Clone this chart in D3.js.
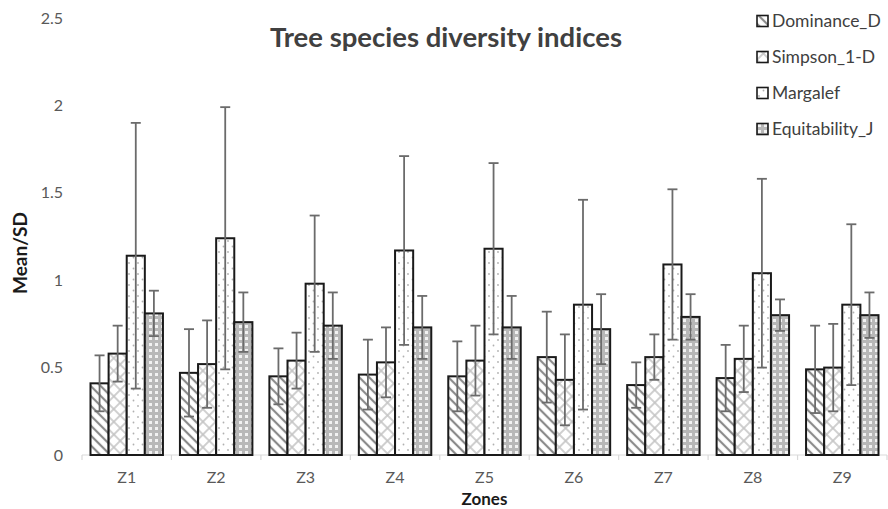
<!DOCTYPE html>
<html>
<head>
<meta charset="utf-8">
<script src="https://cdn.jsdelivr.net/npm/d3@7"></script>
<style>
  body { margin: 0; background: #fff; }
  text { font-family: Lato, "Open Sans", sans-serif; }
</style>
</head>
<body>
<div id="chart"></div>
<script>
var zones = ["Z1", "Z2", "Z3", "Z4", "Z5", "Z6", "Z7", "Z8", "Z9"];
var series = ["Dominance_D", "Simpson_1-D", "Margalef", "Equitability_J"];
var dominance = [0.41, 0.47, 0.45, 0.46, 0.45, 0.56, 0.40, 0.44, 0.49];
var dominance_sd = [0.16, 0.25, 0.16, 0.20, 0.20, 0.26, 0.13, 0.19, 0.25];
var simpson = [0.58, 0.52, 0.54, 0.53, 0.54, 0.43, 0.56, 0.55, 0.50];
var simpson_sd = [0.16, 0.25, 0.16, 0.20, 0.20, 0.26, 0.13, 0.19, 0.25];
var margalef = [1.14, 1.24, 0.98, 1.17, 1.18, 0.86, 1.09, 1.04, 0.86];
var margalef_sd = [0.76, 0.75, 0.39, 0.54, 0.49, 0.60, 0.43, 0.54, 0.46];
var equit = [0.81, 0.76, 0.74, 0.73, 0.73, 0.72, 0.79, 0.80, 0.80];
var equit_sd = [0.13, 0.17, 0.19, 0.18, 0.18, 0.20, 0.13, 0.09, 0.13];
var y_ticks = [0, 0.5, 1, 1.5, 2, 2.5];

var means = [dominance, simpson, margalef, equit];
var sds = [dominance_sd, simpson_sd, margalef_sd, equit_sd];
var patterns = ["pat_dom", "pat_simp", "pat_marg", "pat_eq"];

// flat table, one row per bar
var rows = [];
zones.forEach(function(z, i) {
    series.forEach(function(s, j) {
        rows.push({zone: z, key: s, mean: means[j][i], sd: sds[j][i], pat: patterns[j]});
    });
});

var w = 888, h = 509;
var marges = {left: 82, right: 1, top: 18, bottom: 54};
var graf_w = w - marges.left - marges.right;
var graf_h = h - marges.top - marges.bottom;

var svg = d3.select("#chart")
  .append("svg")
    .attr("width", w)
    .attr("height", h);

// <-- PATTERNS -------------
var defs = svg.append("defs");

var p1 = defs.append("pattern")
    .attr("id", "pat_dom")
    .attr("patternUnits", "userSpaceOnUse")
    .attr("width", 7).attr("height", 7)
    .attr("patternTransform", "rotate(45)");
p1.append("rect").attr("width", 7).attr("height", 7).attr("fill", "#fff");
p1.append("line").attr("x1", 0).attr("x2", 7).attr("y1", 2).attr("y2", 2)
    .attr("stroke", "#8a8a8a").attr("stroke-width", 2.2);

var p2 = defs.append("pattern")
    .attr("id", "pat_simp")
    .attr("patternUnits", "userSpaceOnUse")
    .attr("width", 9).attr("height", 9)
    .attr("patternTransform", "rotate(45)");
p2.append("rect").attr("width", 9).attr("height", 9).attr("fill", "#fff");
p2.append("line").attr("x1", 0).attr("x2", 9).attr("y1", 2).attr("y2", 2)
    .attr("stroke", "#c4c4c4").attr("stroke-width", 1.6);
p2.append("line").attr("x1", 2).attr("x2", 2).attr("y1", 0).attr("y2", 9)
    .attr("stroke", "#c4c4c4").attr("stroke-width", 1.6);

var p3 = defs.append("pattern")
    .attr("id", "pat_marg")
    .attr("patternUnits", "userSpaceOnUse")
    .attr("width", 9).attr("height", 11);
p3.append("rect").attr("width", 9).attr("height", 11).attr("fill", "#fff");
p3.append("circle").attr("cx", 2).attr("cy", 3).attr("r", 0.9).attr("fill", "#b0b0b0");
p3.append("circle").attr("cx", 6.5).attr("cy", 8.5).attr("r", 0.9).attr("fill", "#b0b0b0");

var p4 = defs.append("pattern")
    .attr("id", "pat_eq")
    .attr("patternUnits", "userSpaceOnUse")
    .attr("width", 6).attr("height", 6);
p4.append("rect").attr("width", 6).attr("height", 6).attr("fill", "#b8b8b8");
p4.append("rect").attr("x", 1).attr("y", 1).attr("width", 3).attr("height", 3).attr("fill", "#f2f2f2");
// -- PATTERNS ------------->

var g = svg.append("g")
    .attr("transform", "translate(" + marges.left + "," + marges.top + ")");

// <-- SCALES -------------
var x0 = d3.scaleBand()
    .domain(zones)
    .range([0, graf_w])
    .paddingInner(0.19)
    .paddingOuter(0.095);

var x1 = d3.scaleBand()
    .domain(series)
    .range([0, x0.bandwidth()]);

var y = d3.scaleLinear()
    .domain([0, 2.5])
    .range([graf_h, 0]);
// -- SCALES ------------->

// y axis labels only
g.append("g")
  .attr("class", "yaxis")
  .call(d3.axisLeft(y).tickValues(y_ticks).tickSize(0).tickPadding(19)
        .tickFormat(function(d) { return d; }))
  .call(function(a) { a.select(".domain").remove(); });
g.selectAll(".yaxis text")
  .attr("font-size", 16)
  .attr("fill", "#595959")
  .style("font-family", "Lato, sans-serif");

// x axis: labels, baseline, boundary ticks
var step = x0.step();
var xaxis = g.append("g")
  .attr("class", "xaxis")
  .attr("transform", "translate(0," + graf_h + ")")
  .call(d3.axisBottom(x0).tickSize(0).tickPadding(17));
xaxis.select(".domain").remove();
xaxis.selectAll("text")
  .attr("font-size", 16)
  .attr("fill", "#595959");

xaxis.append("line")
  .attr("x1", 0).attr("x2", graf_w)
  .attr("y1", 0).attr("y2", 0)
  .attr("stroke", "#d9d9d9").attr("stroke-width", 1.2);

xaxis.selectAll(".bound")
  .data(d3.range(zones.length + 1))
  .enter().append("line")
    .attr("class", "bound")
    .attr("x1", function(i) { return x0(zones[0]) - x0.paddingOuter() * step + i * step; })
    .attr("x2", function(i) { return x0(zones[0]) - x0.paddingOuter() * step + i * step; })
    .attr("y1", 0).attr("y2", 5)
    .attr("stroke", "#d9d9d9").attr("stroke-width", 1.2);

// bars
g.append("g")
  .selectAll("rect")
  .data(rows)
  .enter().append("rect")
    .attr("x", function(d) { return x0(d.zone) + x1(d.key); })
    .attr("y", function(d) { return y(d.mean); })
    .attr("width", x1.bandwidth())
    .attr("height", function(d) { return y(0) - y(d.mean); })
    .attr("fill", function(d) { return "url(#" + d.pat + ")"; })
    .attr("stroke", "#1a1a1a")
    .attr("stroke-width", 2);

// error bars
var err = g.append("g").selectAll("g")
  .data(rows)
  .enter().append("g")
    .attr("transform", function(d) { return "translate(" + (x0(d.zone) + x1(d.key) + x1.bandwidth() / 2) + ",0)"; });
err.append("line")
    .attr("y1", function(d) { return y(d.mean + d.sd); })
    .attr("y2", function(d) { return y(d.mean - d.sd); })
    .attr("stroke", "#6b6b6b").attr("stroke-width", 1.8);
err.append("line")
    .attr("x1", -5).attr("x2", 5)
    .attr("y1", function(d) { return y(d.mean + d.sd); })
    .attr("y2", function(d) { return y(d.mean + d.sd); })
    .attr("stroke", "#6b6b6b").attr("stroke-width", 1.8);
err.append("line")
    .attr("x1", -5).attr("x2", 5)
    .attr("y1", function(d) { return y(d.mean - d.sd); })
    .attr("y2", function(d) { return y(d.mean - d.sd); })
    .attr("stroke", "#6b6b6b").attr("stroke-width", 1.8);

// title
svg.append("text")
  .attr("x", 446)
  .attr("y", 47)
  .attr("text-anchor", "middle")
  .attr("font-size", 27.5)
  .attr("font-weight", "bold")
  .attr("fill", "#404040")
  .text("Tree species diversity indices");

// axis titles
svg.append("text")
  .attr("x", marges.left + graf_w / 2)
  .attr("y", 505)
  .attr("text-anchor", "middle")
  .attr("font-size", 17)
  .attr("font-weight", "bold")
  .attr("fill", "#1a1a1a")
  .text("Zones");

svg.append("text")
  .attr("transform", "translate(27,253) rotate(-90)")
  .attr("text-anchor", "middle")
  .attr("font-size", 19)
  .attr("font-weight", "bold")
  .attr("fill", "#1a1a1a")
  .text("Mean/SD");

// <-- LEGEND -------------
var legend = svg.append("g").selectAll("g")
  .data(series)
  .enter().append("g")
    .attr("transform", function(d, i) { return "translate(757," + (21 + i * 36) + ")"; });
legend.append("rect")
    .attr("x", 0).attr("y", -5.5)
    .attr("width", 11).attr("height", 11)
    .attr("fill", function(d, i) { return "url(#" + patterns[i] + ")"; })
    .attr("stroke", "#1a1a1a").attr("stroke-width", 1.6);
legend.append("text")
    .attr("x", 15).attr("y", 6)
    .attr("font-size", 17.5)
    .attr("fill", "#404040")
    .text(function(d) { return d; });
// -- LEGEND ------------->
</script>
</body>
</html>
